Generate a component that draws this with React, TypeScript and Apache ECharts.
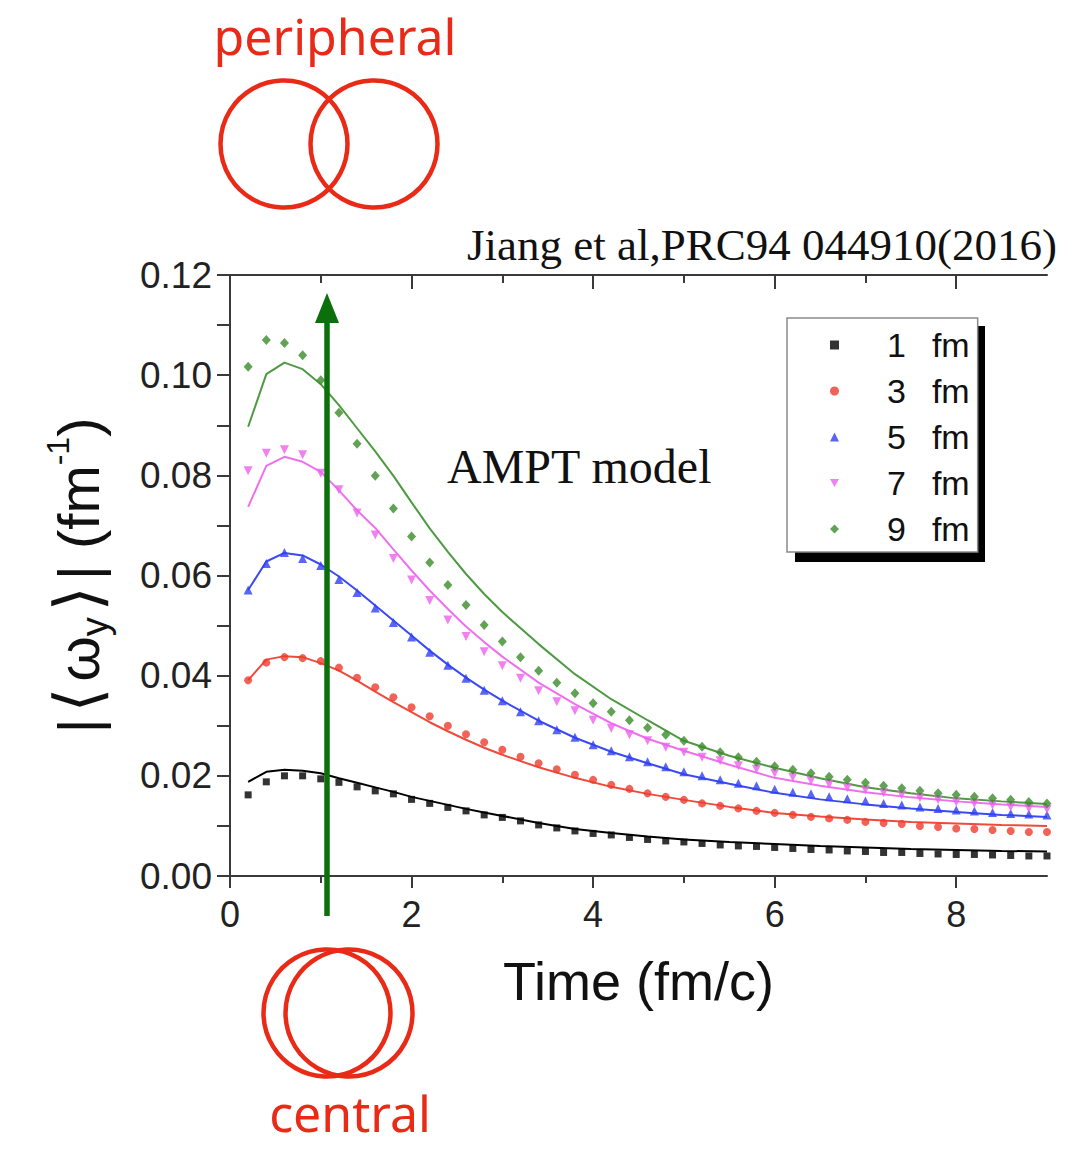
import React, { useEffect, useRef } from "react";
import * as echarts from "echarts";

// ---- data ----
const times = [
  0.2, 0.4, 0.6, 0.8, 1.0, 1.2, 1.4, 1.6, 1.8, 2.0, 2.2, 2.4, 2.6, 2.8, 3.0,
  3.2, 3.4, 3.6, 3.8, 4.0, 4.2, 4.4, 4.6, 4.8, 5.0, 5.2, 5.4, 5.6, 5.8, 6.0,
  6.2, 6.4, 6.6, 6.8, 7.0, 7.2, 7.4, 7.6, 7.8, 8.0, 8.2, 8.4, 8.6, 8.8, 9.0,
];
const pts1fm = [
  0.0162, 0.0188, 0.02, 0.02, 0.0194, 0.0187, 0.0178, 0.017, 0.0164, 0.0153, 0.0145, 0.0137, 0.013, 0.0122, 0.0117,
  0.011, 0.0102, 0.0096, 0.009, 0.0085, 0.0082, 0.0077, 0.0073, 0.007, 0.0068, 0.0065, 0.0062, 0.006, 0.0059, 0.0057,
  0.0055, 0.0053, 0.0052, 0.005, 0.0049, 0.0047, 0.0047, 0.0045, 0.0044, 0.0043, 0.0043, 0.0042, 0.0041, 0.004, 0.004,
];
const pts3fm = [
  0.0391, 0.0426, 0.0437, 0.0435, 0.0429, 0.0416, 0.0396, 0.0377, 0.0357, 0.0337, 0.0319, 0.03, 0.0283, 0.0267, 0.0252,
  0.0238, 0.0225, 0.0213, 0.0202, 0.0192, 0.0182, 0.0174, 0.0165, 0.0158, 0.0152, 0.0145, 0.014, 0.0135, 0.013, 0.0126,
  0.0122, 0.0118, 0.0115, 0.0112, 0.0108, 0.0106, 0.0104, 0.01, 0.0098, 0.0095, 0.0094, 0.0092, 0.009, 0.0088, 0.0088,
];
const pts5fm = [
  0.0571, 0.0624, 0.0646, 0.0634, 0.062, 0.0592, 0.0566, 0.0535, 0.0506, 0.0477, 0.0447, 0.0421, 0.0395, 0.0371, 0.035,
  0.0328, 0.031, 0.0292, 0.0277, 0.0262, 0.025, 0.0238, 0.0228, 0.0218, 0.0208, 0.02, 0.0192, 0.0185, 0.018, 0.0173,
  0.0167, 0.0164, 0.0158, 0.0154, 0.015, 0.0145, 0.0142, 0.0138, 0.0135, 0.0132, 0.013, 0.0127, 0.0125, 0.0124, 0.0122,
];
const pts7fm = [
  0.0809, 0.0844, 0.0851, 0.0841, 0.0804, 0.0771, 0.0725, 0.0681, 0.0634, 0.0591, 0.055, 0.0511, 0.0478, 0.0448, 0.042,
  0.0395, 0.037, 0.0348, 0.033, 0.0311, 0.0295, 0.0282, 0.027, 0.0257, 0.0247, 0.0237, 0.023, 0.022, 0.0213, 0.0205,
  0.0197, 0.019, 0.0183, 0.0176, 0.0172, 0.0166, 0.0162, 0.0156, 0.0152, 0.0148, 0.0145, 0.0142, 0.0138, 0.0135, 0.0133,
];
const pts9fm = [
  0.1017, 0.107, 0.1064, 0.104, 0.099, 0.0925, 0.0863, 0.0799, 0.0734, 0.0678, 0.0626, 0.0581, 0.0541, 0.0501, 0.0468,
  0.0437, 0.041, 0.0386, 0.0365, 0.0345, 0.0328, 0.0311, 0.0296, 0.0282, 0.027, 0.0258, 0.0247, 0.0237, 0.0228, 0.0219,
  0.0212, 0.0205, 0.0198, 0.0192, 0.0186, 0.018, 0.0175, 0.017, 0.0165, 0.0162, 0.0158, 0.0155, 0.0152, 0.0148, 0.0145,
];

const lineTimes = [
  0.2, 0.4, 0.6, 0.8, 1.0, 1.2, 1.4, 1.6, 1.8, 2.0, 2.2, 2.4, 2.6, 2.8, 3.0,
  3.4, 3.8, 4.2, 4.6, 5.0, 5.5, 6.0, 6.5, 7.0, 7.5, 8.0, 8.5, 9.0,
];
const line1fm = [
  0.0188, 0.0208, 0.0212, 0.021, 0.0205, 0.0195, 0.0186, 0.0177, 0.0168, 0.0158, 0.015, 0.0142, 0.0134, 0.0127, 0.012,
  0.0106, 0.0094, 0.0086, 0.0079, 0.0073, 0.0068, 0.0064, 0.006, 0.0057, 0.0054, 0.0052, 0.005, 0.0049,
];
const line3fm = [
  0.0391, 0.0432, 0.0439, 0.0437, 0.0425, 0.041, 0.039, 0.0368, 0.0347, 0.0327, 0.0307, 0.0289, 0.0272, 0.0256, 0.0242,
  0.0217, 0.0196, 0.0178, 0.0164, 0.0152, 0.0138, 0.0126, 0.0119, 0.0113, 0.0108, 0.0105, 0.0102, 0.01,
];
const line5fm = [
  0.0571, 0.0628, 0.0645, 0.064, 0.0622, 0.0598, 0.057, 0.054, 0.051, 0.048, 0.045, 0.0422, 0.0396, 0.0372, 0.035,
  0.031, 0.0276, 0.0248, 0.0225, 0.0203, 0.0184, 0.0166, 0.0153, 0.0143, 0.0135, 0.0128, 0.0122, 0.0118,
];
const line7fm = [
  0.0737, 0.0819, 0.0837, 0.0827, 0.0807, 0.077, 0.073, 0.0695, 0.0652, 0.061, 0.057, 0.0533, 0.0498, 0.0467, 0.0438,
  0.0386, 0.0343, 0.0305, 0.0274, 0.025, 0.0222, 0.0196, 0.018, 0.0167, 0.0157, 0.0149, 0.0143, 0.0138,
];
const line9fm = [
  0.0897, 0.1002, 0.1025, 0.1012, 0.0982, 0.094, 0.0894, 0.0848, 0.0799, 0.0746, 0.0694, 0.0647, 0.0603, 0.0563, 0.0527,
  0.0463, 0.0403, 0.0353, 0.0311, 0.027, 0.024, 0.0216, 0.0195, 0.0177, 0.0165, 0.0155, 0.0149, 0.0144,
];

const seriesNames = ["1 fm", "3 fm", "5 fm", "7 fm", "9 fm"];
const xMajorTicks = [0, 2, 4, 6, 8];
const xMinorTicks = [1, 3, 5, 7];
const titleText = "Jiang et al,PRC94 044910(2016)";
const modelText = "AMPT model";
const xName = "Time (fm/c)";

// ---- styling ----
const colors = ["#000000", "#ee3b2e", "#2f40f2", "#ee62ee", "#3b8b2b"];
const lineColors = ["#000000", "#ef4a3a", "#3a4af2", "#ee70ee", "#4e9a42"];
const symbols = ["rect", "circle", "triangle", "triangle", "diamond"];
const symbolSizes: any[] = [7, 8, 9, 9, [9, 10]];
const symbolRotates = [0, 0, 0, 180, 0];
const legendIcons = ["rect", "circle", "triangle", "path://M0,0L10,0L5,9Z", "diamond"];
const RED = "#e92a17";
const SANS = "'Liberation Sans', Arial, sans-serif";
const SERIF = "'Liberation Serif', 'Times New Roman', serif";
const AXIS = "#3a3a3a";

export default function App() {
  const ref = useRef<HTMLDivElement>(null);
  useEffect(() => {
    document.body.style.margin = "0";
    const chart = echarts.init(ref.current!, null, { renderer: "svg" });
    const pts = [pts1fm, pts3fm, pts5fm, pts7fm, pts9fm];
    const lines = [line1fm, line3fm, line5fm, line7fm, line9fm];

    const lineSeries = lines.map((arr, i) => ({
      type: "line",
      name: seriesNames[i] + " (fit)",
      data: lineTimes.map((t, j) => [t, arr[j]]),
      showSymbol: false,
      symbol: "none",
      smooth: false,
      lineStyle: { color: lineColors[i], width: 2 },
      z: 2,
      silent: true,
    }));
    const scatterSeries = pts.map((arr, i) => ({
      type: "scatter",
      name: seriesNames[i],
      data: times.map((t, j) => [t, arr[j]]),
      symbol: symbols[i],
      symbolSize: symbolSizes[i],
      symbolRotate: symbolRotates[i],
      itemStyle: { color: colors[i] },
      z: 3,
      silent: true,
    }));

    const mirrorAxisCommon = {
      type: "value",
      min: 0,
      max: 9,
      interval: 1,
      axisLabel: { show: false },
      splitLine: { show: false },
    };

    chart.setOption({
      animation: false,
      backgroundColor: "#ffffff",
      grid: { left: 230, right: 30, top: 275, bottom: 273, containLabel: false },
      xAxis: [
        {
          type: "value",
          position: "bottom",
          min: 0,
          max: 9,
          interval: 1,
          name: xName,
          nameLocation: "middle",
          nameGap: 78,
          nameTextStyle: { fontSize: 54, fontFamily: SANS, color: "#111" },
          axisLine: { show: true, lineStyle: { color: AXIS, width: 2 } },
          axisTick: { show: true, inside: false, length: 12, lineStyle: { color: AXIS, width: 2 }, customValues: xMajorTicks },
          axisLabel: { show: true, customValues: xMajorTicks, fontSize: 36, fontFamily: SANS, color: "#222", margin: 20 },
          splitLine: { show: false },
        },
        {
          ...mirrorAxisCommon,
          position: "bottom",
          axisLine: { show: false },
          axisTick: { show: true, inside: false, length: 7, lineStyle: { color: AXIS, width: 2 }, customValues: xMinorTicks },
        },
        {
          ...mirrorAxisCommon,
          position: "top",
          axisLine: { show: true, lineStyle: { color: AXIS, width: 2 } },
          axisTick: { show: true, inside: true, length: 14, lineStyle: { color: AXIS, width: 2 }, customValues: xMajorTicks },
        },
        {
          ...mirrorAxisCommon,
          position: "top",
          axisLine: { show: false },
          axisTick: { show: true, inside: true, length: 8, lineStyle: { color: AXIS, width: 2 }, customValues: xMinorTicks },
        },
      ],
      yAxis: [
        {
          type: "value",
          position: "left",
          min: 0,
          max: 0.12,
          interval: 0.02,
          name: "{a|\u007C}{b|\u27E8}{a|\u03C9}{s|y}{b|\u27E9}{a|\u007C (fm}{p|-1}{a|)}",
          nameLocation: "middle",
          nameRotate: 90,
          nameGap: 116,
          nameTextStyle: {
            rich: {
              a: { fontSize: 58, fontFamily: SANS, color: "#111", lineHeight: 72 },
              b: { fontSize: 64, fontFamily: "'DejaVu Sans', sans-serif", color: "#111", lineHeight: 72, padding: [0, 6, 0, 6] },
              s: { fontSize: 38, fontFamily: SANS, color: "#111", verticalAlign: "bottom", lineHeight: 38 },
              p: { fontSize: 32, fontFamily: SANS, color: "#111", verticalAlign: "top", lineHeight: 32 },
            },
          },
          axisLine: { show: true, lineStyle: { color: AXIS, width: 2 } },
          axisTick: { show: true, inside: false, length: 13, lineStyle: { color: AXIS, width: 2 } },
          minorTick: { show: true, splitNumber: 2, length: 7, lineStyle: { color: AXIS, width: 2 } },
          axisLabel: {
            show: true,
            fontSize: 37,
            fontFamily: SANS,
            color: "#222",
            margin: 18,
            formatter: (v: number) => v.toFixed(2),
          },
          splitLine: { show: false },
          minorSplitLine: { show: false },
        },
        {
          type: "value",
          position: "right",
          min: 0,
          max: 0.12,
          interval: 0.01,
          axisLine: { show: true, lineStyle: { color: AXIS, width: 2 } },
          axisTick: { show: true, inside: true, length: 13, lineStyle: { color: AXIS, width: 2 } },
          axisLabel: { show: false },
          splitLine: { show: false },
        },
      ],
      legend: {
        show: true,
        orient: "vertical",
        left: 787,
        top: 318,
        padding: [10, 8, 6, 43],
        itemWidth: 9,
        itemHeight: 9,
        itemGap: 12,
        selectedMode: false,
        backgroundColor: "#ffffff",
        borderColor: "#8a8a8a",
        borderWidth: 1.5,
        borderRadius: 0,
        z: 10,
        data: seriesNames.map((n, i) => ({ name: n, icon: legendIcons[i], itemStyle: { color: colors[i] } })),
        formatter: (name: string) => {
          const [d, u] = name.split(" ");
          return `{d|${d}}{u|${u}}`;
        },
        textStyle: {
          fontSize: 34,
          fontFamily: SANS,
          color: "#111",
          padding: [0, 0, 0, 43],
          rich: {
            d: { fontSize: 34, fontFamily: SANS, color: "#111", padding: [0, 26, 0, 0] },
            u: { fontSize: 34, fontFamily: SANS, color: "#111" },
          },
        },
      },
      graphic: [
        // legend shadow
        { type: "rect", z: 5, shape: { x: 795, y: 326, width: 190, height: 236 }, style: { fill: "#000" } },
        // reference text
        {
          type: "text",
          x: 1057,
          y: 245,
          style: { text: titleText, font: `45px ${SERIF}`, fill: "#111", align: "right", verticalAlign: "middle" },
        },
        {
          type: "text",
          x: 447,
          y: 466,
          style: { text: modelText, font: `48px ${SERIF}`, fill: "#111", align: "left", verticalAlign: "middle" },
        },
        // peripheral collision sketch
        {
          type: "text",
          x: 335,
          y: 36,
          style: { text: "peripheral", font: `50px 'Noto Sans', sans-serif`, fill: RED, align: "center", verticalAlign: "middle" },
        },
        { type: "circle", shape: { cx: 284, cy: 144, r: 63.5 }, style: { fill: "none", stroke: RED, lineWidth: 4.5 } },
        { type: "circle", shape: { cx: 374, cy: 144, r: 63.5 }, style: { fill: "none", stroke: RED, lineWidth: 4.5 } },
        // central collision sketch
        { type: "circle", shape: { cx: 327, cy: 1013, r: 63.5 }, style: { fill: "none", stroke: RED, lineWidth: 4.5 } },
        { type: "circle", shape: { cx: 349, cy: 1013, r: 63.5 }, style: { fill: "none", stroke: RED, lineWidth: 4.5 } },
        {
          type: "text",
          x: 350,
          y: 1113,
          style: { text: "central", font: `50px 'Noto Sans', sans-serif`, fill: RED, align: "center", verticalAlign: "middle" },
        },
        // green arrow
        { type: "line", z: 20, shape: { x1: 327, y1: 916, x2: 327, y2: 318 }, style: { stroke: "#0b700b", lineWidth: 5.5 } },
        {
          type: "polygon",
          z: 20,
          shape: { points: [[315, 323], [339, 323], [327, 293]] },
          style: { fill: "#0b700b" },
        },
      ],
      series: [...lineSeries, ...scatterSeries],
    });
    return () => chart.dispose();
  }, []);
  return <div ref={ref} style={{ width: 1077, height: 1149 }} />;
}
